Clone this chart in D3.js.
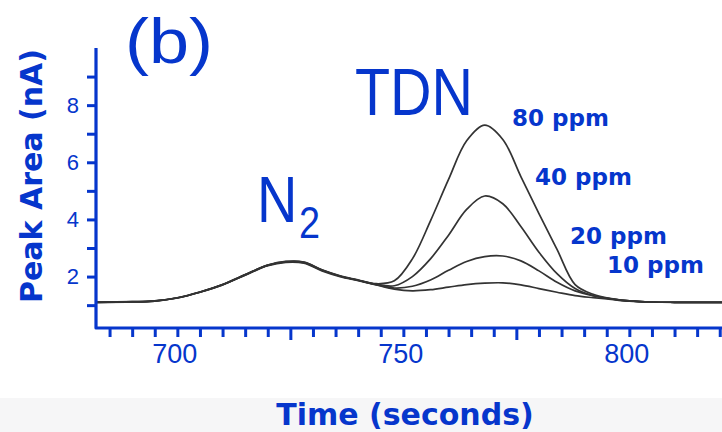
<!DOCTYPE html>
<html>
<head>
<meta charset="utf-8">
<script src="https://cdn.jsdelivr.net/npm/d3@7"></script>
<style>
  html, body { margin: 0; padding: 0; background: #ffffff; }
  svg { display: block; }
</style>
</head>
<body>
<svg id="chart" width="722" height="432"></svg>
<script>
// ---- Data ----
const times = [682, 690, 695, 700, 705, 710, 715, 720, 724, 728, 732, 736, 740, 744,
               748, 752, 756, 760, 764, 768, 772, 776, 780, 784, 788, 792, 796, 800, 805, 810, 822];
const seriesNames = ["10 ppm", "20 ppm", "40 ppm", "80 ppm"];
const ppm10 = [1.10, 1.11, 1.14, 1.25, 1.45, 1.71, 2.05, 2.38, 2.50, 2.47, 2.20, 2.00, 1.86, 1.71,
               1.56, 1.50, 1.54, 1.63, 1.72, 1.77, 1.78, 1.71, 1.58, 1.45, 1.33, 1.26, 1.20, 1.14, 1.11, 1.10, 1.10];
const ppm20 = [1.10, 1.11, 1.15, 1.26, 1.46, 1.72, 2.06, 2.40, 2.51, 2.49, 2.22, 2.01, 1.87, 1.72,
               1.60, 1.66, 1.88, 2.22, 2.53, 2.70, 2.72, 2.55, 2.20, 1.80, 1.50, 1.33, 1.22, 1.15, 1.11, 1.10, 1.10];
const ppm40 = [1.10, 1.12, 1.15, 1.25, 1.45, 1.72, 2.07, 2.39, 2.52, 2.50, 2.23, 2.02, 1.87, 1.73,
               1.68, 2.00, 2.62, 3.45, 4.35, 4.82, 4.55, 3.75, 2.85, 2.10, 1.58, 1.33, 1.22, 1.15, 1.11, 1.10, 1.10];
const ppm80 = [1.11, 1.12, 1.14, 1.26, 1.46, 1.71, 2.06, 2.40, 2.53, 2.51, 2.24, 2.03, 1.88, 1.75,
               1.85, 2.62, 3.95, 5.40, 6.75, 7.30, 6.80, 5.50, 4.20, 2.95, 1.72, 1.38, 1.23, 1.15, 1.11, 1.10, 1.10];
const seriesValues = [ppm10, ppm20, ppm40, ppm80];

const yTickValues = [1, 2, 3, 4, 5, 6, 7, 8, 9];
const yTickLabels = [2, 4, 6, 8];
const xTickValues = d3.range(685, 821, 5);
const xTickLabels = [700, 750, 800];

// ---- Layout ----
const blue = "#0636cc";
const svg = d3.select("#chart");

// light band at the bottom
svg.append("rect").attr("x", 0).attr("y", 398).attr("width", 722).attr("height", 34).attr("fill", "#f6f6f7");

const x = d3.scaleLinear().domain([682, 820.5]).range([96, 722]);
const y = d3.scaleLinear().domain([0.2, 10]).range([328, 48]);

// ---- Curves ----
const line = d3.line()
  .x((d, i) => x(times[i]))
  .y(d => y(d))
  .curve(d3.curveCatmullRom.alpha(0.5));

svg.append("g").selectAll("path")
  .data(seriesValues)
  .join("path")
  .attr("d", d => line(d))
  .attr("fill", "none")
  .attr("stroke", "#333333")
  .attr("stroke-width", 1.7)
  .attr("stroke-linejoin", "round");

// ---- Axes ----
const yAxis = d3.axisLeft(y).tickValues(yTickValues).tickSize(9)
  .tickFormat(d => yTickLabels.includes(d) ? d : "");
const yg = svg.append("g").attr("transform", "translate(96,0)").call(yAxis);
yg.select(".domain").remove();
yg.selectAll(".tick line").attr("stroke", blue).attr("stroke-width", 3);
yg.selectAll(".tick text").attr("fill", blue)
  .attr("font-family", "'Liberation Sans', Arial, sans-serif")
  .attr("font-size", 22).attr("x", -17);

const xAxis = d3.axisBottom(x).tickValues(xTickValues).tickSize(9)
  .tickFormat(d => xTickLabels.includes(d) ? d : "");
const xg = svg.append("g").attr("transform", "translate(0,328)").call(xAxis);
xg.select(".domain").remove();
xg.selectAll(".tick line").attr("stroke", blue).attr("stroke-width", 3)
  .attr("y2", d => (d === 725 || d === 775) ? 12 : 9);
xg.selectAll(".tick text").attr("fill", blue)
  .attr("font-family", "'Liberation Sans', Arial, sans-serif")
  .attr("font-size", 27).attr("y", 16).attr("dx", -3);

// axis lines (L shape)
svg.append("path")
  .attr("d", `M${x.range()[0]},${y.range()[1]} L${x.range()[0]},${y.range()[0]} L${x.range()[1] + 2},${y.range()[0]}`)
  .attr("fill", "none").attr("stroke", blue).attr("stroke-width", 3.2)
  .attr("stroke-linejoin", "round");

// ---- Axis titles ----
svg.append("text")
  .attr("transform", "translate(42,176) rotate(-90)")
  .attr("text-anchor", "middle")
  .attr("font-family", "'DejaVu Sans', Verdana, sans-serif")
  .attr("font-weight", "bold").attr("font-size", 30)
  .attr("fill", blue)
  .text("Peak Area (nA)");

svg.append("text")
  .attr("x", 405).attr("y", 425)
  .attr("text-anchor", "middle")
  .attr("font-family", "'DejaVu Sans', Verdana, sans-serif")
  .attr("font-weight", "bold").attr("font-size", 30)
  .attr("fill", blue)
  .text("Time (seconds)");

// ---- Annotations ----
const sans = "'Liberation Sans', Arial, sans-serif";
svg.append("text").attr("x", 125).attr("y", 63)
  .attr("font-family", sans).attr("font-size", 63).attr("fill", blue)
  .attr("textLength", 88).attr("lengthAdjust", "spacingAndGlyphs")
  .text("(b)");

svg.append("text").attr("x", 355).attr("y", 115)
  .attr("font-family", sans).attr("font-size", 66).attr("fill", blue)
  .attr("textLength", 118).attr("lengthAdjust", "spacingAndGlyphs")
  .text("TDN");

const n2 = svg.append("text")
  .attr("transform", "translate(257,222) scale(0.86,1)")
  .attr("font-family", sans).attr("font-size", 65).attr("fill", blue);
n2.append("tspan").text("N");
n2.append("tspan").attr("dx", 2).attr("dy", 16).attr("font-size", 44).text("2");

const labelPos = [[607, 273], [570, 244], [535, 185], [512, 126]];
svg.append("g").selectAll("text")
  .data(seriesNames)
  .join("text")
  .attr("x", (d, i) => labelPos[i][0])
  .attr("y", (d, i) => labelPos[i][1])
  .attr("font-family", "'DejaVu Sans', Verdana, sans-serif")
  .attr("font-weight", "bold").attr("font-size", 23)
  .attr("fill", blue)
  .text(d => d);
</script>
</body>
</html>
